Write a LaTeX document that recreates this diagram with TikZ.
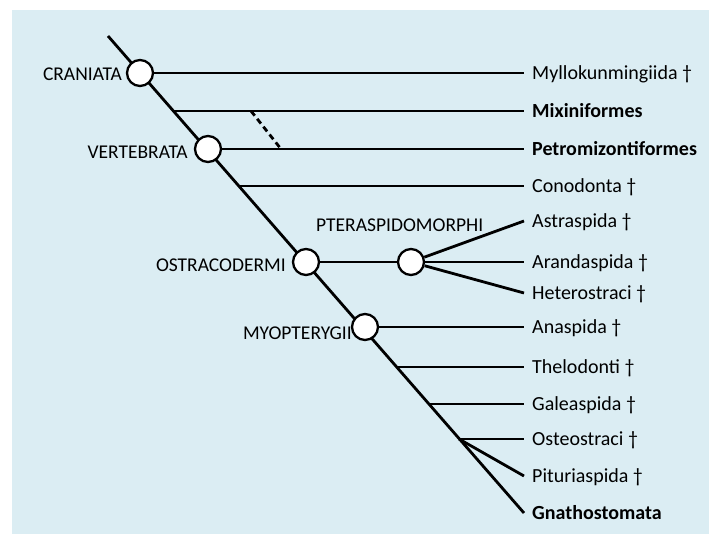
\documentclass[tikz,border=0pt]{standalone}
\usepackage{fontspec}
\setmainfont{Carlito}
\usetikzlibrary{calc}
\definecolor{panel}{RGB}{219,237,243}
\tikzset{
  branch/.style={line width=2.8pt, line cap=butt},
  clade/.style={circle, draw, fill=white, line width=2.3pt, minimum size=26pt, inner sep=0pt},
  taxon/.style={anchor=west, inner xsep=8pt, inner ysep=0pt, text height=14pt, text depth=1pt,
                font=\fontsize{20}{24}\selectfont},
  group/.style={inner sep=0pt, font=\fontsize{19.5}{23}\selectfont},
}
\begin{document}
\begin{tikzpicture}[x=1pt, y=-1pt]
  % page and panel
  \useasboundingbox (0,0) rectangle (709,534);
  \fill[panel] (12,10) rectangle (709,534);

  % stem of the tree
  \coordinate (top) at (108,36);

  % terminal taxa
  \node[taxon] (myl) at (524,73)  {Myllokunmingiida †};
  \node[taxon] (mix) at (524,111) {\bfseries Mixiniformes};
  \node[taxon] (pet) at (524,149) {\bfseries Petromizontiformes};
  \node[taxon] (con) at (524,186) {Conodonta †};
  \node[taxon] (ast) at (524,221) {Astraspida †};
  \node[taxon] (ara) at (524,262) {Arandaspida †};
  \node[taxon] (het) at (524,293) {Heterostraci †};
  \node[taxon] (ana) at (524,327) {Anaspida †};
  \node[taxon] (the) at (524,367) {Thelodonti †};
  \node[taxon] (gal) at (524,404) {Galeaspida †};
  \node[taxon] (ost) at (524,439) {Osteostraci †};
  \node[taxon] (pit) at (524,476) {Pituriaspida †};
  \node[taxon] (gna) at (524,513) {\bfseries Gnathostomata};

  % branching points on the stem
  \coordinate (bmix) at (173,111);
  \coordinate (bcon) at (240,186);
  \coordinate (bthe) at (397,367);
  \coordinate (bgal) at (429,404);
  \coordinate (bost) at (459,439);
  \coordinate (dA) at (251,111);
  \coordinate (dB) at (281,149);

  % stem and branches
  \draw[branch] (top) -- (gna.west);
  \draw[branch] (bmix) -- (mix.west);
  \draw[branch] (bcon) -- (con.west);
  \draw[branch] (bthe) -- (the.west);
  \draw[branch] (bgal) -- (gal.west);
  \draw[branch] (bost) -- (ost.west);
  \draw[branch] (bost) -- (pit.west);
  \draw[branch, dash pattern=on 6pt off 4pt] (dA) -- (dB);

  % named clades
  \node[clade] (cra) at (140,73)  {};
  \node[clade] (ver) at (208,149) {};
  \node[clade] (ostr) at (306,262) {};
  \node[clade] (pte) at (411,262) {};
  \node[clade] (myo) at (365,327) {};

  \draw[branch] (cra) -- (myl.west);
  \draw[branch] (ver) -- (pet.west);
  \draw[branch] (ostr) -- (pte);
  \draw[branch] (pte) -- (ast.west);
  \draw[branch] (pte) -- (ara.west);
  \draw[branch] (pte) -- (het.west);
  \draw[branch] (myo) -- (ana.west);

  % clade labels
  \node[group, anchor=base east] (lcra) at (122,80.5)  {CRANIATA};
  \node[group, anchor=base east] (lver) at (188,158.5) {VERTEBRATA};
  \node[group, anchor=base east] (lost) at (286,271.5) {OSTRACODERMI};
  \node[group, anchor=base east] (lmyo) at (352,339.5) {MYOPTERYGII};
  \node[group, anchor=base west] (lpte) at (316,231.5) {PTERASPIDOMORPHI};
\end{tikzpicture}
\end{document}
